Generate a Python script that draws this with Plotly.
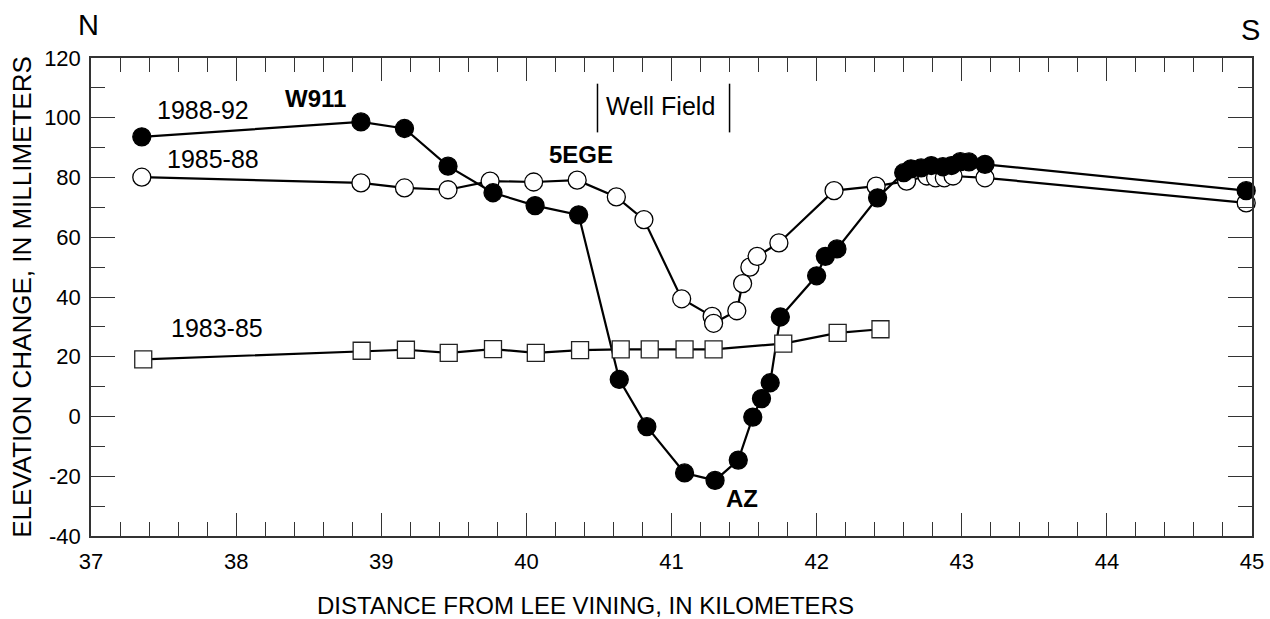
import plotly.graph_objects as go

# ---- data ----
x_8892 = [37.35, 38.86, 39.16, 39.46, 39.77, 40.06, 40.36, 40.64, 40.83, 41.09,
          41.30, 41.46, 41.56, 41.62, 41.68, 41.75, 42.00, 42.06, 42.14, 42.42,
          42.60, 42.65, 42.72, 42.79, 42.87, 42.93, 42.99, 43.05, 43.16, 44.96]
y_8892 = [93.6, 98.6, 96.4, 83.8, 74.9, 70.6, 67.5, 12.4, -3.4, -18.9,
          -21.4, -14.6, -0.2, 6.0, 11.3, 33.3, 47.1, 53.6, 56.1, 73.2,
          81.6, 82.9, 83.2, 84.0, 83.6, 84.0, 85.3, 85.2, 84.4, 75.6]

x_8588 = [37.35, 38.86, 39.16, 39.46, 39.75, 40.05, 40.35, 40.62, 40.81, 41.07,
          41.28, 41.29, 41.45, 41.49, 41.54, 41.59, 41.74, 42.12, 42.41, 42.62,
          42.76, 42.82, 42.88, 42.94, 43.16, 44.96]
y_8588 = [80.1, 78.2, 76.5, 75.9, 78.8, 78.5, 79.1, 73.5, 65.9, 39.4,
          33.5, 31.2, 35.4, 44.5, 50.0, 53.6, 58.1, 75.6, 77.1, 78.8,
          80.5, 79.9, 79.9, 80.5, 79.9, 71.5]

x_8385 = [37.36, 38.865, 39.17, 39.465, 39.77, 40.065, 40.37, 40.65, 40.85, 41.09,
          41.29, 41.77, 42.145, 42.44]
y_8385 = [19.1, 22.0, 22.35, 21.3, 22.55, 21.3, 22.2, 22.45, 22.45, 22.45,
          22.45, 24.4, 28.0, 29.2]

x_ticks = [37, 38, 39, 40, 41, 42, 43, 44, 45]
y_ticks = [-40, -20, 0, 20, 40, 60, 80, 100, 120]

FONT = "Liberation Sans, Arial, sans-serif"
AX = "#333333"

fig = go.Figure()

fig.add_trace(go.Scatter(
    x=x_8588, y=y_8588, mode="lines+markers", name="1985-88",
    line=dict(color="black", width=2.2),
    marker=dict(symbol="circle", size=18, color="white",
                line=dict(color="black", width=1.3)),
    cliponaxis=False))

fig.add_trace(go.Scatter(
    x=x_8892, y=y_8892, mode="lines+markers", name="1988-92",
    line=dict(color="black", width=2.2),
    marker=dict(symbol="circle", size=18, color="black",
                line=dict(color="black", width=1.3)),
    cliponaxis=False))

fig.add_trace(go.Scatter(
    x=x_8385, y=y_8385, mode="lines+markers", name="1983-85",
    line=dict(color="black", width=2.2),
    marker=dict(symbol="square", size=17, color="white",
                line=dict(color="#222222", width=1.3)),
    cliponaxis=False))

ann = [
    dict(x=37.77, y=102.7, text="1988-92", font=dict(size=25)),
    dict(x=37.84, y=86.2, text="1985-88", font=dict(size=25)),
    dict(x=37.87, y=29.5, text="1983-85", font=dict(size=25)),
    dict(x=38.55, y=106.6, text="<b>W911</b>", font=dict(size=24)),
    dict(x=40.375, y=87.6, text="<b>5EGE</b>", font=dict(size=24)),
    dict(x=41.483, y=-27.5, text="<b>AZ</b>", font=dict(size=24)),
    dict(x=40.925, y=103.8, text="Well Field", font=dict(size=25)),
]
annotations = []
for a in ann:
    a.update(xref="x", yref="y", showarrow=False, xanchor="center", yanchor="middle")
    a["font"].update(family=FONT, color="black")
    annotations.append(a)
annotations.append(dict(x=-0.002, y=1.069, xref="paper", yref="paper", text="N",
                        xanchor="center", yanchor="middle",
                        showarrow=False, font=dict(family=FONT, size=29, color="black")))
annotations.append(dict(x=0.9985, y=1.058, xref="paper", yref="paper", text="S",
                        xanchor="center", yanchor="middle",
                        showarrow=False, font=dict(family=FONT, size=29, color="black")))
# x-axis title (off-centre in the original)
annotations.append(dict(x=0.4255, y=-0.146, xref="paper", yref="paper",
                        text="DISTANCE FROM LEE VINING, IN KILOMETERS",
                        xanchor="center", yanchor="middle", showarrow=False,
                        font=dict(family=FONT, size=24, color="black")))

shapes = [
    dict(type="line", xref="x", yref="y", x0=40.49, x1=40.49, y0=95.1, y1=111.4,
         line=dict(color="black", width=1.5)),
    dict(type="line", xref="x", yref="y", x0=41.40, x1=41.40, y0=95.1, y1=111.4,
         line=dict(color="black", width=1.5)),
]

fig.update_layout(
    width=1270, height=619,
    margin=dict(l=91, r=18, t=58, b=83),
    paper_bgcolor="white", plot_bgcolor="white",
    showlegend=False,
    font=dict(family=FONT, color="black"),
    annotations=annotations,
    shapes=shapes,
    xaxis=dict(
        range=[37, 45], tickvals=x_ticks, ticktext=[str(v) for v in x_ticks],
        ticks="inside", ticklen=23, tickwidth=1.3, tickcolor=AX,
        minor=dict(dtick=0.2, tick0=37, ticks="inside", ticklen=14, tickwidth=1.3, tickcolor=AX),
        showline=True, linecolor=AX, linewidth=1.5, mirror="ticks",
        showgrid=False, zeroline=False, automargin=False,
        tickfont=dict(family=FONT, size=22, color="black"),
        ticklabelstandoff=5,
    ),
    yaxis=dict(
        range=[-40, 120], tickvals=y_ticks, ticktext=[str(v) for v in y_ticks],
        ticks="inside", ticklen=24, tickwidth=1.3, tickcolor=AX,
        minor=dict(dtick=10, tick0=0, ticks="inside", ticklen=14, tickwidth=1.3, tickcolor=AX),
        showline=True, linecolor=AX, linewidth=1.5, mirror="ticks",
        showgrid=False, zeroline=False, automargin=False,
        tickfont=dict(family=FONT, size=22, color="black"),
        ticklabelstandoff=4,
        title=dict(text="ELEVATION CHANGE, IN MILLIMETERS",
                   font=dict(family=FONT, size=26, color="black"), standoff=5),
    ),
)

fig.write_html("out.html")
